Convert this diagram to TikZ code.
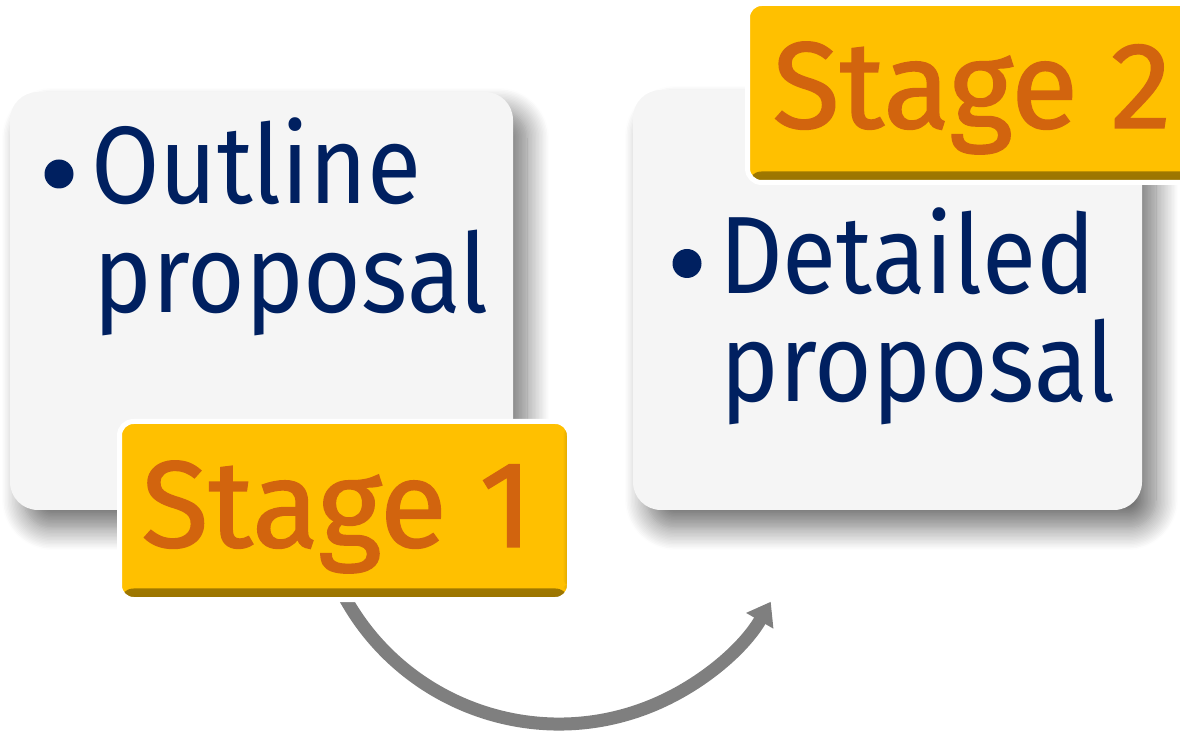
\documentclass[tikz,border=0pt]{standalone}
\usepackage{fontspec}
\setmainfont{Fira Sans}
\newfontfamily\bodyfont[FakeStretch=0.9]{Fira Sans}
\newfontfamily\stagefont[FakeBold=1.2]{Fira Sans}
\usetikzlibrary{shadows.blur,arrows.meta}
\definecolor{navy}{HTML}{002060}
\definecolor{gold}{HTML}{FFC000}
\definecolor{cardfill}{HTML}{F5F5F5}
\definecolor{arrowgray}{HTML}{7F7F7F}
\definecolor{stageorange}{HTML}{D2640E}
\begin{document}
\begin{tikzpicture}[x=1pt,y=1pt,
  card/.style={rectangle, rounded corners=28pt, fill=cardfill, inner sep=0pt,
    blur shadow={shadow xshift=14pt, shadow yshift=-18pt, shadow blur radius=22pt, shadow blur steps=16, shadow opacity=55}},
  stagebox/.style={rectangle, rounded corners=14pt, fill=gold, draw=white, line width=5pt, inner sep=0pt,
    path picture={
      \shade[top color=gold, bottom color=gold!60!black]
        ([yshift=11pt]path picture bounding box.south west) rectangle (path picture bounding box.south east);
      \shade[left color=gold, right color=gold!75!black, opacity=0.7]
        ([xshift=-7pt,yshift=-3pt]path picture bounding box.north east) rectangle ([yshift=10pt]path picture bounding box.south east);
    }},
  bodytext/.style={text=navy, font=\bodyfont\fontsize{110}{110}\selectfont, inner sep=0pt, anchor=base west},
  stagetext/.style={text=stageorange, font=\stagefont\fontsize{123}{123}\selectfont, inner sep=0pt, anchor=base},
  bulletdot/.style={circle, fill=navy, minimum size=29pt, inner sep=0pt},
  flow/.style={draw=arrowgray, line width=13pt, -{Triangle[width=30pt,length=22pt]}}
]
\useasboundingbox (0,0) rectangle (1180,731);
% arrow (behind the boxes)
\coordinate (arrowstart) at ({559+244.5*cos(203)},{251.5+244.5*sin(203)});
\draw[flow] (arrowstart) arc[start angle=203, end angle=330, radius=244.5];
% cards
\node[card, minimum width=503pt, minimum height=418pt] (outlinecard) at (261.5,430) {};
\node[card, minimum width=509pt, minimum height=420pt] (detailcard) at (887.5,431) {};
% stage labels
\node[stagebox, minimum width=450pt, minimum height=178pt] (stage1) at (344.5,220.5) {};
\node[stagebox, minimum width=450pt, minimum height=179pt] (stage2) at (972.5,638) {};
\node[stagetext] (stage1text) at (337,184) {Stage 1};
\node[stagetext] (stage2text) at (972,603) {Stage 2};
% body texts
\node[bulletdot] (bullet1) at (59,557) {};
\node[bodytext] (outline) at (91,527) {Outline};
\node[bodytext] (proposal1) at (93,418) {proposal};
\node[bulletdot] (bullet2) at (687,467.5) {};
\node[bodytext] (detailed) at (719,437) {Detailed};
\node[bodytext] (proposal2) at (720,329) {proposal};
\end{tikzpicture}
\end{document}
